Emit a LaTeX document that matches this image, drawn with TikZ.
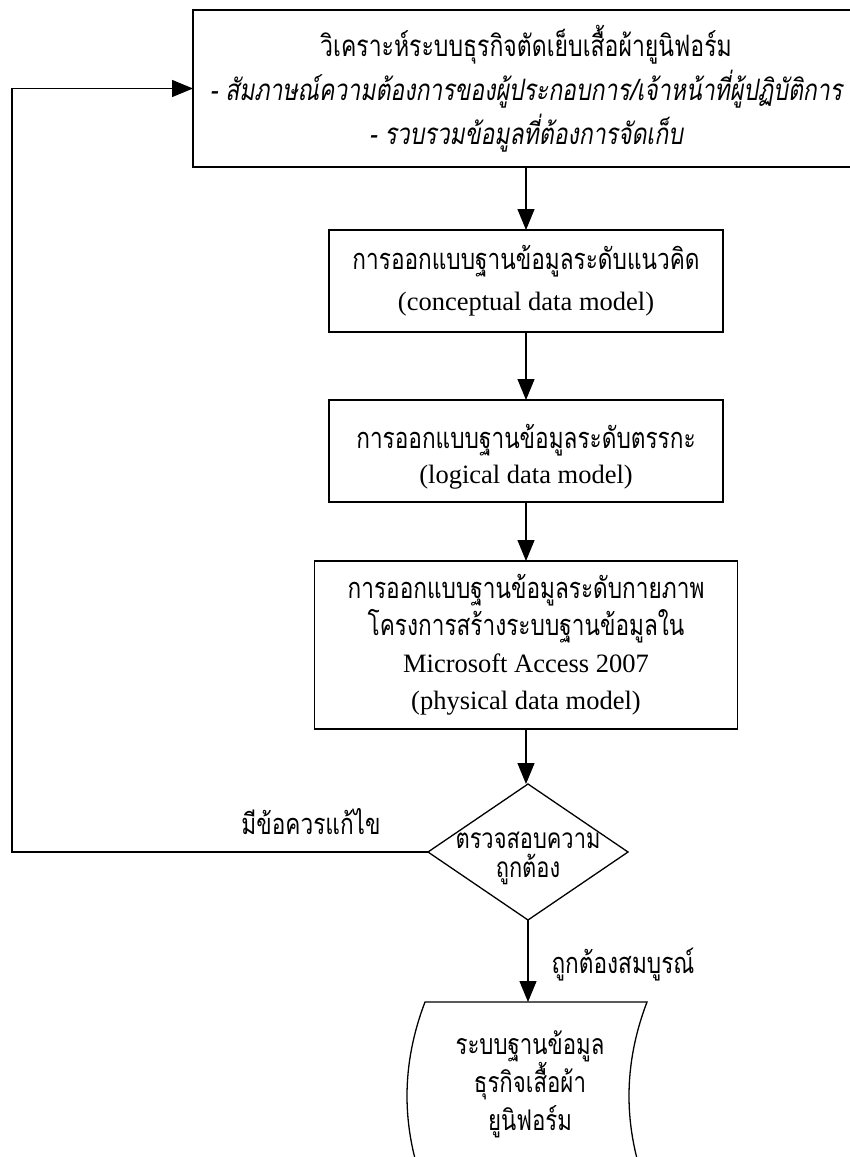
\documentclass[tikz,border=0pt]{standalone}
\usepackage{fontspec}
\setmainfont{Liberation Serif}
\newfontfamily\thai[Script=Thai,FakeStretch=0.78]{Loma}
\usetikzlibrary{shapes.geometric,arrows.meta}
\tikzset{
  every node/.style={inner sep=0pt, outer sep=0pt},
  box/.style={draw, line width=1.3pt, align=center},
  lbl/.style={font=\thai\fontsize{29}{32}\selectfont},
  flow/.style={line width=1.3pt, -{Triangle[length=21pt,width=17pt]}},
  edge/.style={line width=1.3pt},
}
\newcommand{\thbox}{\thai\fontsize{29}{37}\selectfont}
\begin{document}
\begin{tikzpicture}[x=1pt,y=-1pt]
\clip (0,0) rectangle (850,1157);
\fill[white] (0,0) rectangle (850,1157);

\node[box, minimum width=666pt, minimum height=157pt,
      font=\thai\fontsize{29.5}{44}\selectfont] (top) at (526,88.5)
  {วิเคราะห์ระบบธุรกิจตัดเย็บเสื้อผ้ายูนิฟอร์ม\\
   \itshape - สัมภาษณ์ความต้องการของผู้ประกอบการ/เจ้าหน้าที่ผู้ปฏิบัติการ\\
   \itshape - รวบรวมข้อมูลที่ต้องการจัดเก็บ};

\node[box, minimum width=394pt, minimum height=102pt,
      font=\fontsize{26.5}{41}\selectfont] (b2) at (526,281)
  {{\thbox การออกแบบฐานข้อมูลระดับแนวคิด}\\(conceptual data model)};

\node[box, minimum width=394pt, minimum height=102pt,
      font=\fontsize{26.5}{37}\selectfont, text depth=0pt] (b3) at (526,451)
  {\raisebox{-8pt}{\thbox การออกแบบฐานข้อมูลระดับตรรกะ}\\\raisebox{-6pt}{(logical data model)}};

\node[box, minimum width=423pt, minimum height=168pt,
      font=\fontsize{26.5}{37}\selectfont] (b4) at (526,645)
  {{\thbox การออกแบบฐานข้อมูลระดับกายภาพ}\\{\thbox โครงการสร้างระบบฐานข้อมูลใน}\\Microsoft Access 2007\\(physical data model)};

\node[diamond, draw, line width=1.3pt, minimum width=200pt, minimum height=136pt] (chk) at (528,852) {};
\node[align=center, font=\thai\fontsize{28}{29}\selectfont] (chktxt) at (528,858)
  {ตรวจสอบความ\\ถูกต้อง};

\node[lbl] (no) at (311,822) {มีข้อควรแก้ไข};
\node[lbl] (yes) at (623,965) {ถูกต้องสมบูรณ์};

% stored data shape
\coordinate (dbtop) at (528,1002);
\draw[edge] (425,1190) .. controls (401,1127) and (401,1065) .. (425,1002)
   -- (647,1002) .. controls (623,1065) and (623,1127) .. (647,1190);
\node[align=center, font=\thai\fontsize{28.5}{38}\selectfont] (db) at (530,1084)
  {ระบบฐานข้อมูล\\ธุรกิจเสื้อผ้า\\ยูนิฟอร์ม};

\coordinate (fb) at (12,852);
\draw[flow] (top.south) -- (b2.north);
\draw[flow] (b2.south) -- (b3.north);
\draw[flow] (b3.south) -- (b4.north);
\draw[flow] (b4.south) -- (b4.south |- chk.north);
\draw[flow] (chk.south) -- (dbtop);
\draw[flow] (chk.west) -- (fb) |- (top.west);
\end{tikzpicture}
\end{document}
